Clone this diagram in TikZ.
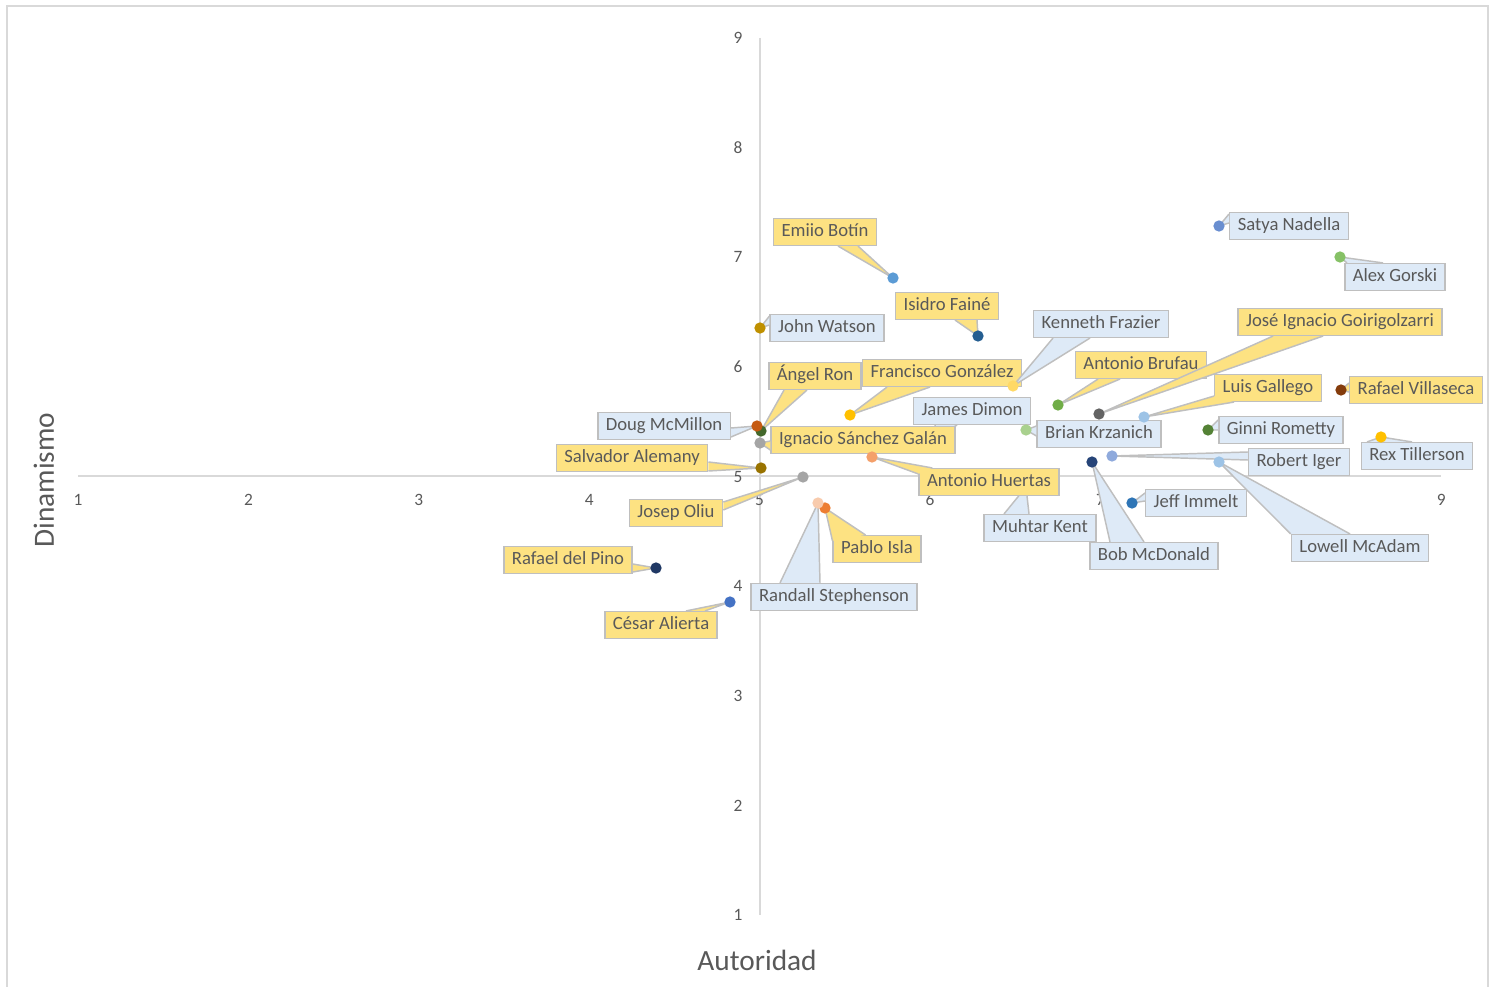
\documentclass[tikz,border=0pt]{standalone}
\usepackage{fontspec}
\setmainfont{Carlito}
\usetikzlibrary{calc}

\definecolor{ylw}{RGB}{253,226,130}
\definecolor{blu}{RGB}{222,234,247}
\definecolor{lblline}{RGB}{191,191,191}
\definecolor{txt}{RGB}{89,89,89}
\definecolor{axisgray}{RGB}{217,217,217}

\tikzset{
  lbl/.style={draw=lblline, line width=1.1pt, text=txt, font=\fontsize{14}{16}\selectfont,
    inner xsep=6pt, inner ysep=3.5pt, text height=10pt, text depth=3pt},
  lbly/.style={lbl, fill=ylw},
  lblb/.style={lbl, fill=blu},
  wedge/.style={draw=lblline, line width=1.1pt, line join=round},
  dot/.style={circle, fill=#1, inner sep=0pt, minimum size=8.5pt},
  tick/.style={text=txt, font=\fontsize{13}{15}\selectfont},
  title/.style={text=txt, font=\fontsize{22}{24}\selectfont},
}

\begin{document}
\begin{tikzpicture}[x=0.75pt,y=-0.75pt]
\useasboundingbox (0,0) rectangle (1493,987);

% frame
\coordinate (f0) at (7,987);
\coordinate (f1) at (7,6);
\coordinate (f2) at (1488,6);
\coordinate (f3) at (1488,987);
\draw[axisgray, line width=1.2pt] (f0) -- (f1) -- (f2) -- (f3);

% axes
\coordinate (xa) at (78,476);
\coordinate (xb) at (1441,476);
\coordinate (ya) at (760,38);
\coordinate (yb) at (760,915);
\draw[axisgray, line width=0.9pt] (xa) -- (xb);
\draw[axisgray, line width=0.9pt] (ya) -- (yb);
\foreach \v in {1,...,9}{
  \node[tick] (xt\v) at ({78+(\v-1)*170.4},500) {\v};
  \node[tick] (yt\v) at (738,{915-(\v-1)*109.6}) {\v};
}
\node[title] (xtitle) at (757,960) {Autoridad};
\node[title, rotate=90] (ytitle) at (44,480) {Dinamismo};

% data points
\coordinate (p-botin) at (893,278);
\coordinate (p-faine) at (978,336);
\coordinate (p-watson) at (760,328);
\coordinate (p-ron) at (761,431);
\coordinate (p-mcmillon) at (757,426);
\coordinate (p-gonzalez) at (850,415);
\coordinate (p-galan) at (760,443);
\coordinate (p-dimon) at (936,438);
\coordinate (p-frazier) at (1013,386);
\coordinate (p-brufau) at (1058,405);
\coordinate (p-goiri) at (1099,414);
\coordinate (p-gallego) at (1144,417);
\coordinate (p-villaseca) at (1341,390);
\coordinate (p-nadella) at (1219,226);
\coordinate (p-gorski) at (1340,257);
\coordinate (p-krzanich) at (1026,430);
\coordinate (p-rometty) at (1208,430);
\coordinate (p-tillerson) at (1381,437);
\coordinate (p-iger) at (1112,456);
\coordinate (p-mcadam) at (1219,462);
\coordinate (p-immelt) at (1132,503);
\coordinate (p-mcdonald) at (1092,462);
\coordinate (p-kent) at (1026,487);
\coordinate (p-huertas) at (872,457);
\coordinate (p-alemany) at (761,468);
\coordinate (p-oliu) at (803,477);
\coordinate (p-isla) at (825,508);
\coordinate (p-stephenson) at (818,503);
\coordinate (p-pino) at (656,568);
\coordinate (p-alierta) at (730,602);

% labels
\node[lbly] (l-botin) at (825,232) {Emiio Botín};
\draw[wedge, fill=ylw] ($(l-botin.south)+(13,0)$) -- (p-botin) -- ($(l-botin.south)+(33,0)$);
\node[lbly] (l-faine) at (947,306) {Isidro Fainé};
\draw[wedge, fill=ylw] ($(l-faine.south)+(8,0)$) -- (p-faine) -- ($(l-faine.south)+(30,0)$);
\node[lblb] (l-watson) at (827,328) {John Watson};
\draw[wedge, fill=blu] ($(l-watson.west)+(0,-12)$) -- (p-watson) -- ($(l-watson.west)+(0,-3)$);
\node[lbly] (l-ron) at (815,376) {Ángel Ron};
\draw[wedge, fill=ylw] ($(l-ron.south)+(-31,0)$) -- (p-ron) -- ($(l-ron.south)+(-8,0)$);
\node[lblb] (l-mcmillon) at (664,426) {Doug McMillon};
\draw[wedge, fill=blu] ($(l-mcmillon.east)+(0,2)$) -- (p-mcmillon) -- ($(l-mcmillon.east)+(0,11)$);
\node[lbly] (l-gonzalez) at (942,373) {Francisco González};
\draw[wedge, fill=ylw] ($(l-gonzalez.south)+(-55,0)$) -- (p-gonzalez) -- ($(l-gonzalez.south)+(-12,0)$);
\node[lblb] (l-dimon) at (972,411) {James Dimon};
\draw[wedge, fill=blu] ($(l-dimon.south)+(-37,0)$) -- (p-dimon) -- ($(l-dimon.south)+(-15,0)$);
\node[lbly] (l-galan) at (863,440) {Ignacio Sánchez Galán};
\draw[wedge, fill=ylw] ($(l-galan.west)+(0,1)$) -- (p-galan) -- ($(l-galan.west)+(0,10)$);
\node[lblb] (l-frazier) at (1101,324) {Kenneth Frazier};
\draw[wedge, fill=blu] ($(l-frazier.south)+(-48,0)$) -- (p-frazier) -- ($(l-frazier.south)+(-11,0)$);
\node[lbly] (l-brufau) at (1141,365) {Antonio Brufau};
\draw[wedge, fill=ylw] ($(l-brufau.south)+(-43,0)$) -- (p-brufau) -- ($(l-brufau.south)+(-21,0)$);
\node[lbly] (l-goiri) at (1340,322) {José Ignacio Goirigolzarri};
\draw[wedge, fill=ylw] ($(l-goiri.south)+(-67,0)$) -- (p-goiri) -- ($(l-goiri.south)+(-17,0)$);
\node[lbly] (l-gallego) at (1268,388) {Luis Gallego};
\draw[wedge, fill=ylw] ($(l-gallego.south west)+(0,-6)$) -- (p-gallego) -- ($(l-gallego.south west)+(20,0)$);
\node[lbly] (l-villaseca) at (1416,390) {Rafael Villaseca};
\draw[wedge, fill=ylw] ($(l-villaseca.west)+(0,-7)$) -- (p-villaseca) -- ($(l-villaseca.west)+(0,2)$);
\node[lblb] (l-nadella) at (1289,226) {Satya Nadella};
\draw[wedge, fill=blu] ($(l-nadella.west)+(0,-12)$) -- (p-nadella) -- ($(l-nadella.west)+(0,-3)$);
\node[lblb] (l-gorski) at (1395,277) {Alex Gorski};
\draw[wedge, fill=blu] ($(l-gorski.north)+(-48,0)$) -- (p-gorski) -- ($(l-gorski.north)+(-12,0)$);
\node[lblb] (l-krzanich) at (1099,434) {Brian Krzanich};
\draw[wedge, fill=blu] ($(l-krzanich.west)+(0,-8)$) -- (p-krzanich) -- ($(l-krzanich.west)+(0,2)$);
\node[lblb] (l-rometty) at (1281,430) {Ginni Rometty};
\draw[wedge, fill=blu] ($(l-rometty.west)+(0,-10)$) -- (p-rometty) -- ($(l-rometty.west)+(0,0)$);
\node[lblb] (l-tillerson) at (1417,456) {Rex Tillerson};
\draw[wedge, fill=blu] ($(l-tillerson.north)+(-50,0)$) -- (p-tillerson) -- ($(l-tillerson.north)+(-5,0)$);
\node[lblb] (l-iger) at (1299,462) {Robert Iger};
\draw[wedge, fill=blu] ($(l-iger.west)+(0,-10)$) -- (p-iger) -- ($(l-iger.west)+(0,-2)$);
\node[lblb] (l-mcadam) at (1360,548) {Lowell McAdam};
\draw[wedge, fill=blu] ($(l-mcadam.north west)+(0,0)$) -- (p-mcadam) -- ($(l-mcadam.north)+(-10,0)$);
\node[lblb] (l-immelt) at (1196,503) {Jeff Immelt};
\draw[wedge, fill=blu] ($(l-immelt.west)+(0,-10)$) -- (p-immelt) -- ($(l-immelt.west)+(0,-2)$);
\node[lblb] (l-mcdonald) at (1154,556) {Bob McDonald};
\draw[wedge, fill=blu] ($(l-mcdonald.north)+(-44,0)$) -- (p-mcdonald) -- ($(l-mcdonald.north)+(-10,0)$);
\node[lblb] (l-kent) at (1040,528) {Muhtar Kent};
\draw[wedge, fill=blu] ($(l-kent.north)+(-36,0)$) -- (p-kent) -- ($(l-kent.north)+(-11,0)$);
\node[lbly] (l-huertas) at (989,482) {Antonio Huertas};
\draw[wedge, fill=ylw] ($(l-huertas.north west)+(0,6)$) -- (p-huertas) -- ($(l-huertas.north west)+(14,0)$);
\node[lbly] (l-alemany) at (632,458) {Salvador Alemany};
\draw[wedge, fill=ylw] ($(l-alemany.east)+(0,4)$) -- (p-alemany) -- ($(l-alemany.east)+(0,13)$);
\node[lbly] (l-oliu) at (676,513) {Josep Oliu};
\draw[wedge, fill=ylw] ($(l-oliu.east)+(0,-11)$) -- (p-oliu) -- ($(l-oliu.east)+(0,-3)$);
\node[lblb] (l-stephenson) at (834,597) {Randall Stephenson};
\draw[wedge, fill=blu] ($(l-stephenson.north)+(-54,0)$) -- (p-stephenson) -- ($(l-stephenson.north)+(-14,0)$);
\node[lbly] (l-isla) at (877,549) {Pablo Isla};
\draw[wedge, fill=ylw] ($(l-isla.north west)+(0,6)$) -- (p-isla) -- ($(l-isla.north west)+(33,0)$);
\node[lbly] (l-pino) at (568,560) {Rafael del Pino};
\draw[wedge, fill=ylw] ($(l-pino.east)+(0,4)$) -- (p-pino) -- ($(l-pino.east)+(0,12)$);
\node[lbly] (l-alierta) at (661,625) {César Alierta};
\draw[wedge, fill=ylw] ($(l-alierta.north)+(25,0)$) -- (p-alierta) -- ($(l-alierta.north)+(44,0)$);

% markers
\foreach \p/\c in {botin/5B9BD5, faine/255E91, watson/BF9000, ron/43682B, mcmillon/C55A11,
  gonzalez/FFC000, galan/A5A5A5, frazier/FFD966, brufau/70AD47, goiri/636363,
  gallego/9DC3E6, villaseca/843C0C, nadella/698ED0, gorski/86C166, krzanich/A9D18E,
  rometty/548235, tillerson/FFC000, iger/8FAADC, mcadam/9DC3E6, immelt/2E75B6,
  mcdonald/264478, huertas/F4A06A, alemany/997300, oliu/A5A5A5, isla/ED7D31,
  stephenson/F8CBAD, pino/203864, alierta/4472C4}{
  \definecolor{dc}{HTML}{\c}
  \node[dot=dc] (d-\p) at (p-\p) {};
}

\end{tikzpicture}
\end{document}
